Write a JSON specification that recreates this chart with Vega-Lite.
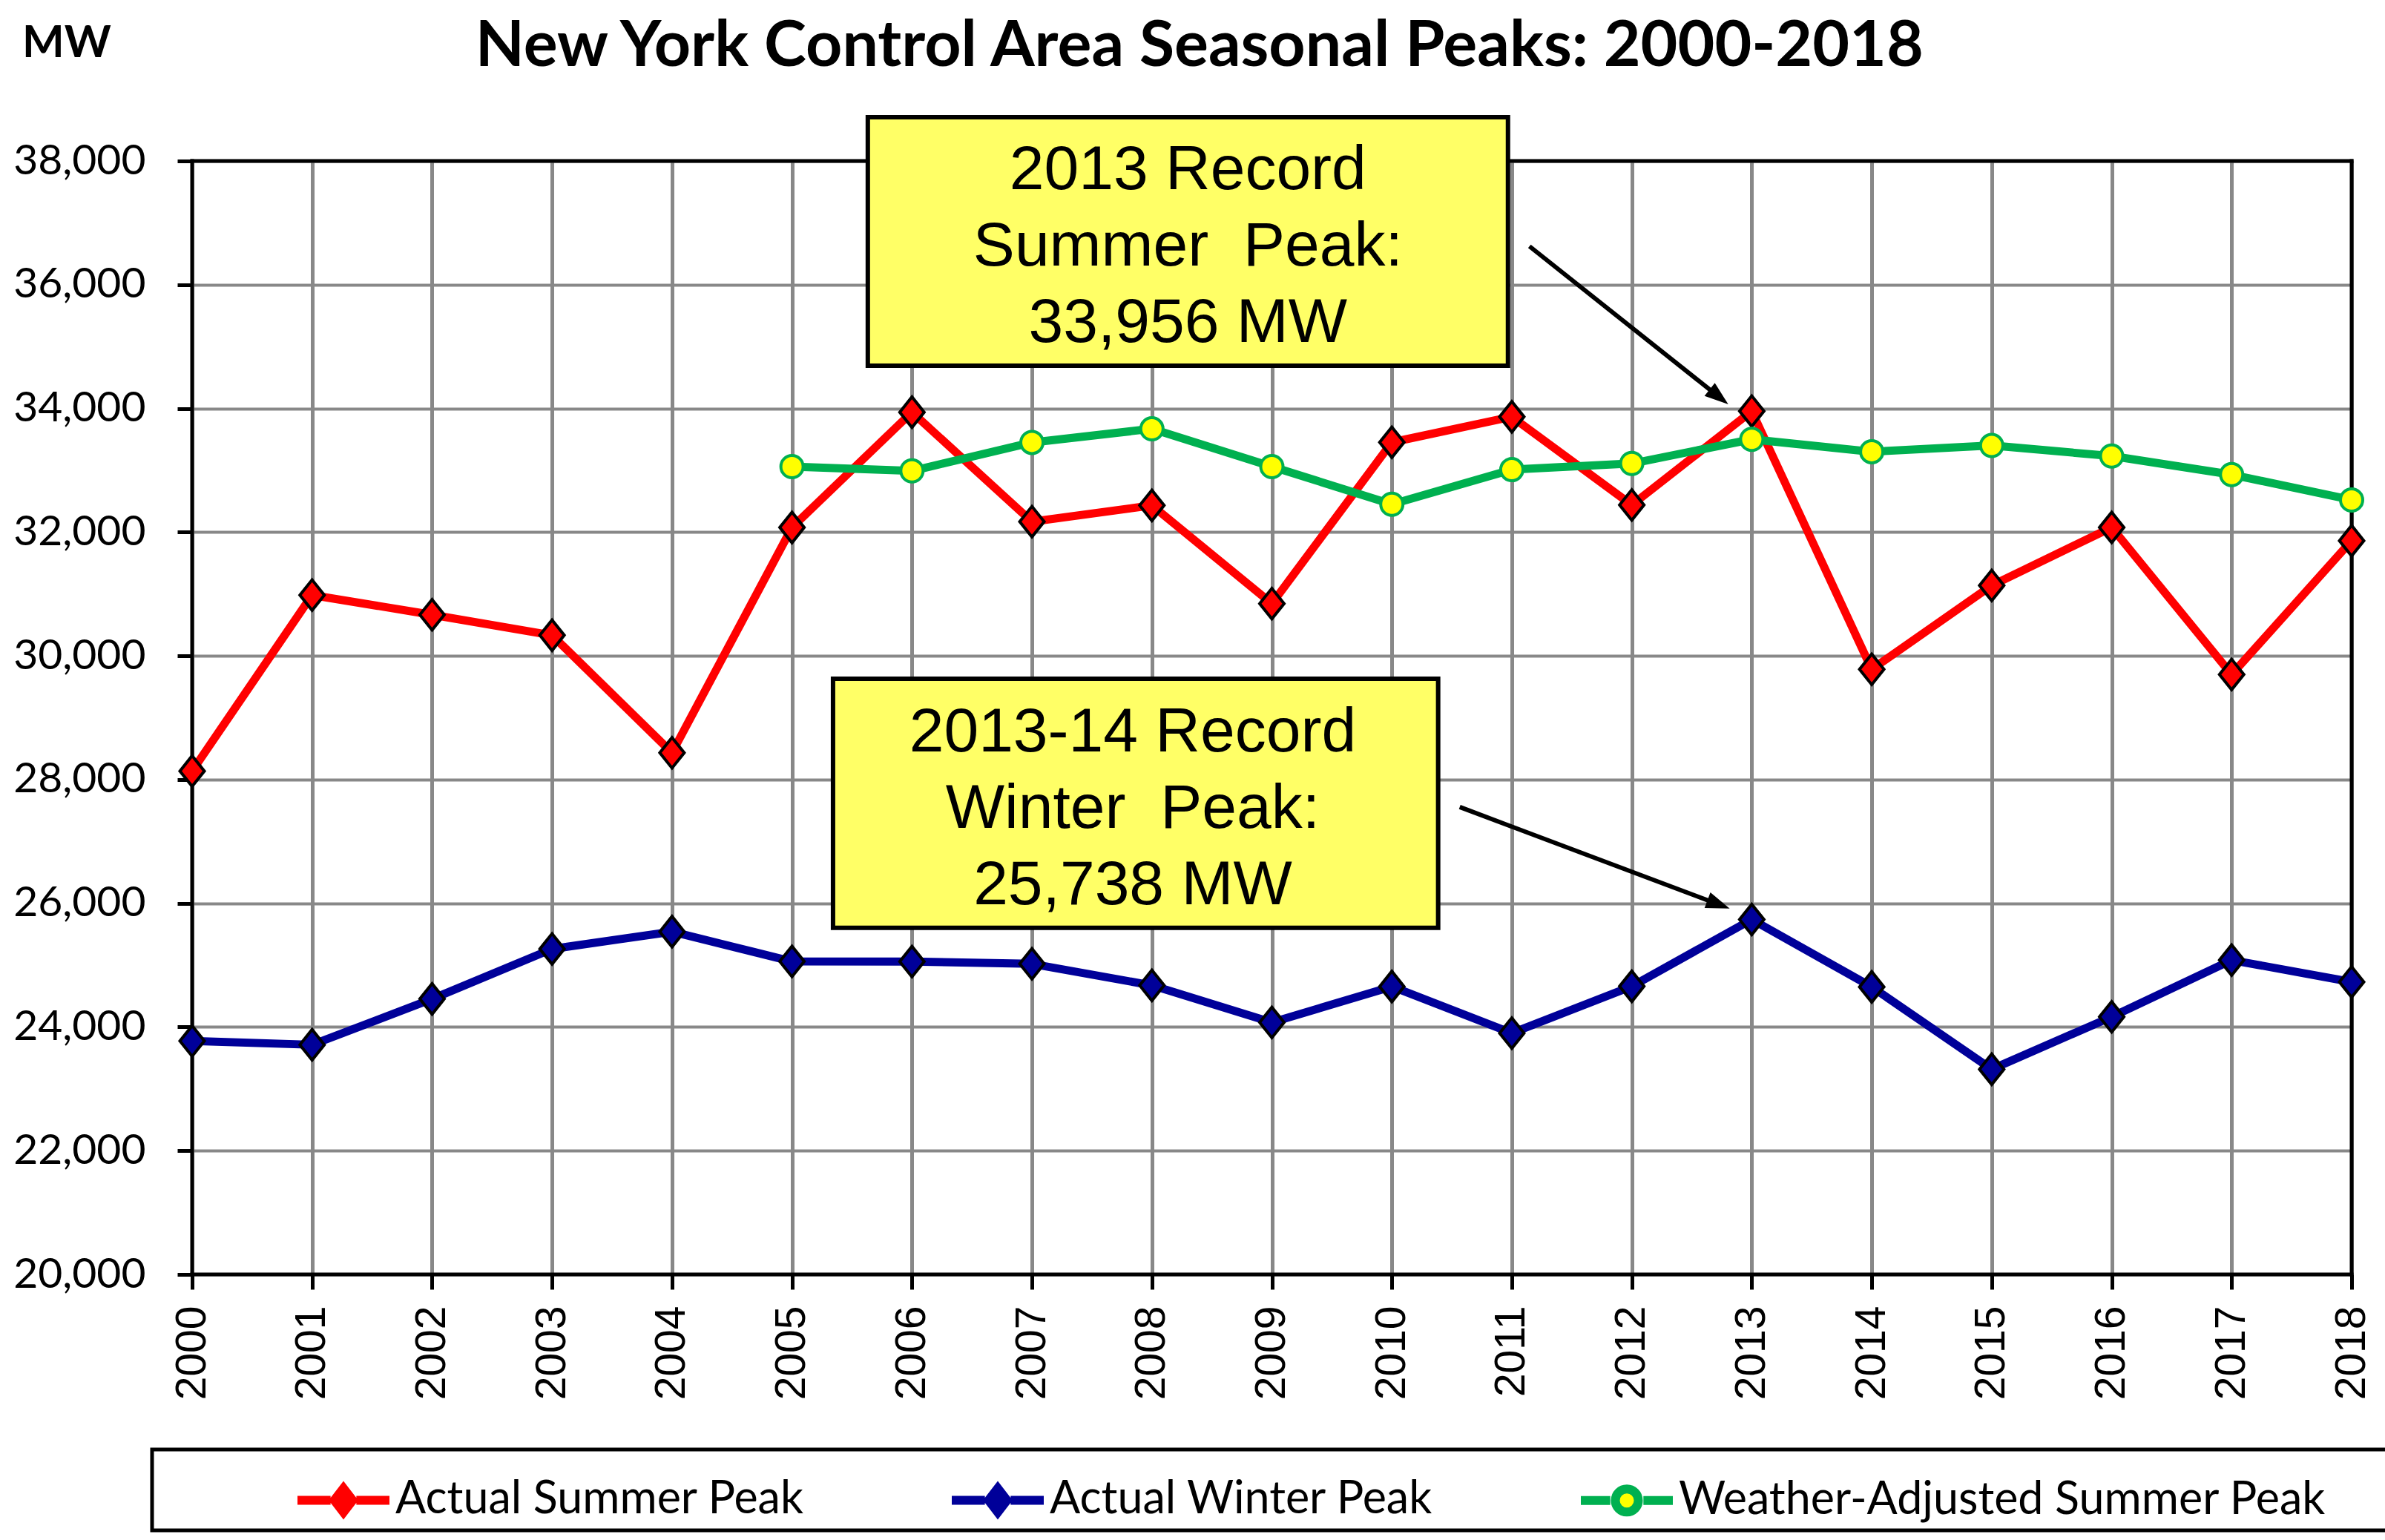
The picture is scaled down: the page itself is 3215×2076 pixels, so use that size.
{
  "$schema": "https://vega.github.io/schema/vega-lite/v6.json",
  "width": 2911,
  "height": 1501,
  "autosize": {"type": "none"},
  "padding": {"left": 259, "top": 217, "right": 45, "bottom": 358},
  "background": "white",
  "config": {
    "font": "Lato",
    "view": {"stroke": null},
    "legend": {"strokeWidth": 5},
    "axis": {"labelColor": "black", "tickColor": "black", "tickWidth": 5, "tickSize": 20, "domain": false, "gridColor": "#888888", "gridOpacity": 1, "labelFlush": false, "labelOverlap": false}
  },
  "datasets": {
    "peaks": [
      {"year": 2000, "series": "Actual Summer Peak", "value": 28138},
      {"year": 2001, "series": "Actual Summer Peak", "value": 30982},
      {"year": 2002, "series": "Actual Summer Peak", "value": 30664},
      {"year": 2003, "series": "Actual Summer Peak", "value": 30333},
      {"year": 2004, "series": "Actual Summer Peak", "value": 28433},
      {"year": 2005, "series": "Actual Summer Peak", "value": 32075},
      {"year": 2006, "series": "Actual Summer Peak", "value": 33939},
      {"year": 2007, "series": "Actual Summer Peak", "value": 32169},
      {"year": 2008, "series": "Actual Summer Peak", "value": 32432},
      {"year": 2009, "series": "Actual Summer Peak", "value": 30844},
      {"year": 2010, "series": "Actual Summer Peak", "value": 33452},
      {"year": 2011, "series": "Actual Summer Peak", "value": 33865},
      {"year": 2012, "series": "Actual Summer Peak", "value": 32439},
      {"year": 2013, "series": "Actual Summer Peak", "value": 33956},
      {"year": 2014, "series": "Actual Summer Peak", "value": 29782},
      {"year": 2015, "series": "Actual Summer Peak", "value": 31138},
      {"year": 2016, "series": "Actual Summer Peak", "value": 32076},
      {"year": 2017, "series": "Actual Summer Peak", "value": 29699},
      {"year": 2018, "series": "Actual Summer Peak", "value": 31861},
      {"year": 2000, "series": "Actual Winter Peak", "value": 23774},
      {"year": 2001, "series": "Actual Winter Peak", "value": 23713},
      {"year": 2002, "series": "Actual Winter Peak", "value": 24454},
      {"year": 2003, "series": "Actual Winter Peak", "value": 25262},
      {"year": 2004, "series": "Actual Winter Peak", "value": 25541},
      {"year": 2005, "series": "Actual Winter Peak", "value": 25060},
      {"year": 2006, "series": "Actual Winter Peak", "value": 25057},
      {"year": 2007, "series": "Actual Winter Peak", "value": 25021},
      {"year": 2008, "series": "Actual Winter Peak", "value": 24673},
      {"year": 2009, "series": "Actual Winter Peak", "value": 24074},
      {"year": 2010, "series": "Actual Winter Peak", "value": 24654},
      {"year": 2011, "series": "Actual Winter Peak", "value": 23901},
      {"year": 2012, "series": "Actual Winter Peak", "value": 24658},
      {"year": 2013, "series": "Actual Winter Peak", "value": 25738},
      {"year": 2014, "series": "Actual Winter Peak", "value": 24648},
      {"year": 2015, "series": "Actual Winter Peak", "value": 23317},
      {"year": 2016, "series": "Actual Winter Peak", "value": 24164},
      {"year": 2017, "series": "Actual Winter Peak", "value": 25081},
      {"year": 2018, "series": "Actual Winter Peak", "value": 24728},
      {"year": 2005, "series": "Weather-Adjusted Summer Peak", "value": 33060},
      {"year": 2006, "series": "Weather-Adjusted Summer Peak", "value": 32990},
      {"year": 2007, "series": "Weather-Adjusted Summer Peak", "value": 33450},
      {"year": 2008, "series": "Weather-Adjusted Summer Peak", "value": 33670},
      {"year": 2009, "series": "Weather-Adjusted Summer Peak", "value": 33060},
      {"year": 2010, "series": "Weather-Adjusted Summer Peak", "value": 32450},
      {"year": 2011, "series": "Weather-Adjusted Summer Peak", "value": 33010},
      {"year": 2012, "series": "Weather-Adjusted Summer Peak", "value": 33110},
      {"year": 2013, "series": "Weather-Adjusted Summer Peak", "value": 33500},
      {"year": 2014, "series": "Weather-Adjusted Summer Peak", "value": 33300},
      {"year": 2015, "series": "Weather-Adjusted Summer Peak", "value": 33400},
      {"year": 2016, "series": "Weather-Adjusted Summer Peak", "value": 33230},
      {"year": 2017, "series": "Weather-Adjusted Summer Peak", "value": 32930},
      {"year": 2018, "series": "Weather-Adjusted Summer Peak", "value": 32520}
    ]
  },
  "layer": [
    {
      "data": {"values": [{}]},
      "mark": {"type": "rule", "color": "black", "strokeWidth": 5, "strokeCap": "square"},
      "encoding": {"y": {"datum": 38000, "type": "quantitative", "scale": {"domain": [20000, 38000], "nice": false, "zero": false}}}
    },
    {
      "data": {"values": [{}]},
      "mark": {"type": "rule", "color": "black", "strokeWidth": 5, "strokeCap": "square"},
      "encoding": {"y": {"datum": 20000, "type": "quantitative", "scale": {"domain": [20000, 38000], "nice": false, "zero": false}}}
    },
    {
      "data": {"values": [{}]},
      "mark": {"type": "rule", "color": "black", "strokeWidth": 5, "strokeCap": "square"},
      "encoding": {"x": {"datum": 2000, "type": "quantitative", "scale": {"domain": [2000, 2018], "nice": false, "zero": false}}}
    },
    {
      "data": {"values": [{}]},
      "mark": {"type": "rule", "color": "black", "strokeWidth": 5, "strokeCap": "square"},
      "encoding": {"x": {"datum": 2018, "type": "quantitative", "scale": {"domain": [2000, 2018], "nice": false, "zero": false}}}
    },
    {
      "data": {"name": "peaks"},
      "mark": {"type": "line", "strokeWidth": 11, "strokeJoin": "round"},
      "encoding": {
        "x": {"field": "year", "type": "quantitative", "scale": {"domain": [2000, 2018], "nice": false, "zero": false},
          "axis": {"values": [2000,2001,2002,2003,2004,2005,2006,2007,2008,2009,2010,2011,2012,2013,2014,2015,2016,2017,2018], "format": "d", "labelAngle": 270, "labelFont": "Liberation Sans", "labelFontSize": 57, "labelPadding": 22, "grid": true, "gridWidth": 5, "title": null}},
        "y": {"field": "value", "type": "quantitative", "scale": {"domain": [20000, 38000], "nice": false, "zero": false},
          "axis": {"values": [20000,22000,24000,26000,28000,30000,32000,34000,36000,38000], "format": ",.0f", "labelFont": "Lato", "labelFontSize": 57, "labelPadding": 43, "grid": true, "gridWidth": 4, "title": null}},
        "color": {"field": "series", "type": "nominal",
          "scale": {"range": ["#FF0000", "#000099", "#00B050"]},
          "legend": null
        }
      }
    },
    {
      "data": {"name": "peaks"},
      "transform": [{"filter": "false"}],
      "mark": {"type": "point", "filled": true, "opacity": 1},
      "encoding": {
        "x": {"field": "year", "type": "quantitative", "scale": {"domain": [2000, 2018], "nice": false, "zero": false}},
        "y": {"field": "value", "type": "quantitative", "scale": {"domain": [20000, 38000], "nice": false, "zero": false}},
        "fill": {"field": "series", "type": "nominal",
          "scale": {"domain": ["Actual Summer Peak", "Actual Winter Peak", "Weather-Adjusted Summer Peak", "\u00a0"], "range": ["#FF0000", "#000099", "#FFFF00", "transparent"]},
          "legend": {
            "orient": "none", "legendX": -54, "legendY": 1737, "direction": "horizontal", "columns": 4, "columnPadding": 174, "padding": 0,
            "title": "\u00a0", "titleOrient": "left", "titlePadding": 190, "titleFontSize": 8,
            "labelFont": "Lato", "labelFontSize": 61, "labelColor": "black", "labelLimit": 3000, "labelOffset": 2,
            "symbolSize": 15376, "symbolStrokeWidth": 12, "symbolOpacity": 1, "strokeColor": "black"
          }
        },
        "shape": {"field": "series", "type": "nominal",
          "scale": {"domain": ["Actual Summer Peak", "Actual Winter Peak", "Weather-Adjusted Summer Peak", "\u00a0"], "range": ["M-1,0H-0.28M0.28,0H1M-0.2,0L0,-0.26L0.2,0L0,0.26Z", "M-1,0H-0.28M0.28,0H1M-0.2,0L0,-0.26L0.2,0L0,0.26Z", "M-1,0H-0.36M0.36,0H1M-0.25,0A0.25,0.25,0,1,0,0.25,0A0.25,0.25,0,1,0,-0.25,0Z", "M0,0"]},
          "legend": {
            "orient": "none", "legendX": -54, "legendY": 1737, "direction": "horizontal", "columns": 4, "columnPadding": 174, "padding": 0,
            "title": "\u00a0", "titleOrient": "left", "titlePadding": 190, "titleFontSize": 8,
            "labelFont": "Lato", "labelFontSize": 61, "labelColor": "black", "labelLimit": 3000, "labelOffset": 2,
            "symbolSize": 15376, "symbolStrokeWidth": 12, "symbolOpacity": 1, "strokeColor": "black"
          }
        },
        "stroke": {"field": "series", "type": "nominal",
          "scale": {"domain": ["Actual Summer Peak", "Actual Winter Peak", "Weather-Adjusted Summer Peak", "\u00a0"], "range": ["#FF0000", "#000099", "#00B050", "transparent"]},
          "legend": {
            "orient": "none", "legendX": -54, "legendY": 1737, "direction": "horizontal", "columns": 4, "columnPadding": 174, "padding": 0,
            "title": "\u00a0", "titleOrient": "left", "titlePadding": 190, "titleFontSize": 8,
            "labelFont": "Lato", "labelFontSize": 61, "labelColor": "black", "labelLimit": 3000, "labelOffset": 2,
            "symbolSize": 15376, "symbolStrokeWidth": 12, "symbolOpacity": 1, "strokeColor": "black"
          }
        }
      }
    },
    {
      "data": {"name": "peaks"},
      "mark": {"type": "point", "filled": true, "strokeWidth": 4, "opacity": 1},
      "encoding": {
        "x": {"field": "year", "type": "quantitative", "scale": {"domain": [2000, 2018], "nice": false, "zero": false}},
        "y": {"field": "value", "type": "quantitative", "scale": {"domain": [20000, 38000], "nice": false, "zero": false}},
        "fill": {"condition": [{"test": "datum.series === 'Actual Summer Peak'", "value": "#FF0000"}, {"test": "datum.series === 'Actual Winter Peak'", "value": "#000099"}], "value": "#FFFF00"},
        "shape": {"condition": {"test": "datum.series === 'Weather-Adjusted Summer Peak'", "value": "circle"}, "value": "M-0.8,0L0,-1L0.8,0L0,1Z"},
        "size": {"condition": {"test": "datum.series === 'Weather-Adjusted Summer Peak'", "value": 900}, "value": 1700},
        "stroke": {"condition": {"test": "datum.series === 'Weather-Adjusted Summer Peak'", "value": "#00B050"}, "value": "black"}
      }
    },
    {
      "data": {"values": [{}]},
      "mark": {"type": "rect", "fill": "#FFFF66", "stroke": "black", "strokeWidth": 6},
      "encoding": {
        "x": {"datum": 2005.632, "type": "quantitative", "scale": {"domain": [2000, 2018], "nice": false, "zero": false}},
        "x2": {"datum": 2010.968},
        "y": {"datum": 38707, "type": "quantitative", "scale": {"domain": [20000, 38000], "nice": false, "zero": false}},
        "y2": {"datum": 34691}
      }
    },
    {
      "data": {"values": [{}]},
      "mark": {"type": "text", "text": ["2013 Record", "Summer\u00a0 Peak:", "33,956 MW"], "font": "Liberation Sans", "fontSize": 84, "align": "center", "baseline": "alphabetic", "lineHeight": 103, "color": "black"},
      "encoding": {
        "x": {"datum": 2008.30, "type": "quantitative", "scale": {"domain": [2000, 2018], "nice": false, "zero": false}},
        "y": {"datum": 37544, "type": "quantitative", "scale": {"domain": [20000, 38000], "nice": false, "zero": false}}
      }
    },
    {
      "data": {"values": [{}]},
      "mark": {"type": "rect", "fill": "#FFFF66", "stroke": "black", "strokeWidth": 6},
      "encoding": {
        "x": {"datum": 2005.342, "type": "quantitative", "scale": {"domain": [2000, 2018], "nice": false, "zero": false}},
        "x2": {"datum": 2010.386},
        "y": {"datum": 29631, "type": "quantitative", "scale": {"domain": [20000, 38000], "nice": false, "zero": false}},
        "y2": {"datum": 25602}
      }
    },
    {
      "data": {"values": [{}]},
      "mark": {"type": "text", "text": ["2013-14 Record", "Winter\u00a0 Peak:", "25,738 MW"], "font": "Liberation Sans", "fontSize": 84, "align": "center", "baseline": "alphabetic", "lineHeight": 103, "color": "black"},
      "encoding": {
        "x": {"datum": 2007.84, "type": "quantitative", "scale": {"domain": [2000, 2018], "nice": false, "zero": false}},
        "y": {"datum": 28456, "type": "quantitative", "scale": {"domain": [20000, 38000], "nice": false, "zero": false}}
      }
    },
    {
      "data": {"values": [{}]},
      "mark": {"type": "rule", "color": "black", "strokeWidth": 6},
      "encoding": {
        "x": {"datum": 2011.147, "type": "quantitative", "scale": {"domain": [2000, 2018], "nice": false, "zero": false}},
        "x2": {"datum": 2012.731},
        "y": {"datum": 36621, "type": "quantitative", "scale": {"domain": [20000, 38000], "nice": false, "zero": false}},
        "y2": {"datum": 34179}
      }
    },
    {
      "data": {"values": [{}]},
      "mark": {"type": "point", "shape": "M0,0L0.35,1L-0.35,1Z", "filled": true, "color": "black", "opacity": 1, "size": 4096, "angle": 128.5, "strokeWidth": 0},
      "encoding": {
        "x": {"datum": 2012.804, "type": "quantitative", "scale": {"domain": [2000, 2018], "nice": false, "zero": false}},
        "y": {"datum": 34067, "type": "quantitative", "scale": {"domain": [20000, 38000], "nice": false, "zero": false}}
      }
    },
    {
      "data": {"values": [{}]},
      "mark": {"type": "rule", "color": "black", "strokeWidth": 6},
      "encoding": {
        "x": {"datum": 2010.566, "type": "quantitative", "scale": {"domain": [2000, 2018], "nice": false, "zero": false}},
        "x2": {"datum": 2012.730},
        "y": {"datum": 27556, "type": "quantitative", "scale": {"domain": [20000, 38000], "nice": false, "zero": false}},
        "y2": {"datum": 25977}
      }
    },
    {
      "data": {"values": [{}]},
      "mark": {"type": "point", "shape": "M0,0L0.35,1L-0.35,1Z", "filled": true, "color": "black", "opacity": 1, "size": 4096, "angle": 110.6, "strokeWidth": 0},
      "encoding": {
        "x": {"datum": 2012.816, "type": "quantitative", "scale": {"domain": [2000, 2018], "nice": false, "zero": false}},
        "y": {"datum": 25914, "type": "quantitative", "scale": {"domain": [20000, 38000], "nice": false, "zero": false}}
      }
    },
    {
      "data": {"values": [{}]},
      "mark": {"type": "text", "text": "New York Control Area Seasonal Peaks: 2000-2018", "font": "Lato", "fontSize": 86, "fontWeight": "bold", "align": "center", "baseline": "alphabetic", "color": "black"},
      "encoding": {
        "x": {"datum": 2008.396, "type": "quantitative", "scale": {"domain": [2000, 2018], "nice": false, "zero": false}},
        "y": {"datum": 39535, "type": "quantitative", "scale": {"domain": [20000, 38000], "nice": false, "zero": false}}
      }
    },
    {
      "data": {"values": [{}]},
      "mark": {"type": "text", "text": "MW", "font": "Lato", "fontSize": 60, "fontWeight": "bold", "align": "left", "baseline": "alphabetic", "color": "black"},
      "encoding": {
        "x": {"datum": 1998.584, "type": "quantitative", "scale": {"domain": [2000, 2018], "nice": false, "zero": false}},
        "y": {"datum": 39679, "type": "quantitative", "scale": {"domain": [20000, 38000], "nice": false, "zero": false}}
      }
    }
  ]
}
